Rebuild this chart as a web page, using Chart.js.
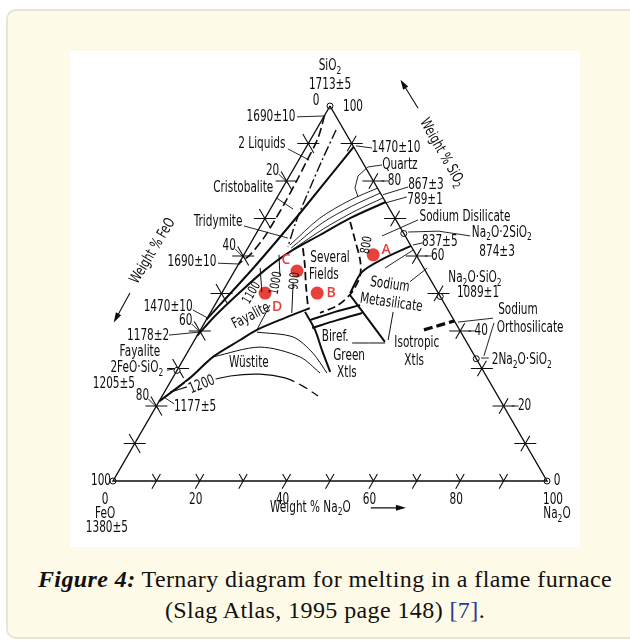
<!DOCTYPE html>
<html>
<head>
<meta charset="utf-8">
<script src="https://cdn.jsdelivr.net/npm/chart.js@4.4.1/dist/chart.umd.min.js"></script>
<style>
html, body { margin:0; padding:0; background:#fff; width:630px; height:641px; overflow:hidden; }
#card { position:absolute; left:6px; top:9px; width:660px; height:630px; background:#fefae8;
        border:2px solid #e8e4d8; border-radius:10px; box-sizing:border-box; }
#pic { position:absolute; left:70px; top:51px; width:510px; height:496px; background:#fff; }
#cap { position:absolute; left:20px; top:564px; width:610px; text-align:center;
       font-family:'Liberation Serif', serif; font-size:24px; line-height:31px; letter-spacing:0.4px; color:#111; }
#cap .ref { color:#2b3a93; }
</style>
</head>
<body>
<div id="card"></div>
<div id="pic"><canvas id="tern" width="510" height="496"></canvas></div>
<div id="cap"><b><i>Figure 4:</i></b> Ternary diagram for melting in a flame furnace<br>(Slag Atlas, 1995 page 148) <span class="ref">[7]</span>.</div>

<script>
// compositions are [wt% Na2O, wt% SiO2], FeO is the rest
var na2oTicks = [0, 20, 40, 60, 80, 100];
var feoTicks = [0, 20, 40, 60, 80, 100];
var sio2Ticks = [0, 20, 40, 60, 80, 100];
var tickSteps = [10, 20, 30, 40, 50, 60, 70, 80, 90];

var pointNames = ['A', 'B', 'C', 'D'];
var pointNa2O = [29.8, 22.0, 14.4, 10.0];
var pointSiO2 = [60.3, 50.1, 56.0, 50.1];

var compounds = [[0,100],[0,0],[100,0],[0,29.5],[34.0,66.0],[50.8,49.2],[67.4,32.6]];

var liquids2 = [[0,97.5],[1.5,91.5],[2,85],[2.3,80],[2.5,74.5],[2.5,69],[2.3,64.5],[1.4,60.3],[0,58]];
var iso1470 = [[10.9,89.1],[7.5,72],[4,57],[0,43]];
var dashDot = [[4.6,93.6],[5.4,85.6],[6.5,76.8],[7.6,69.1],[9.1,62.4]];
var silicaLine = [[0,38.7],[1.5,44],[4.1,50.4],[6.9,56.3],[10.2,61.1],[14.9,65.6],[19.6,70.1],[25.6,74.4]];
var quartz1 = [[21.9,78.1],[17.2,74.9],[12.6,70.1],[9.3,62.9]];
var quartz2 = [[23.2,76.8],[18.4,73.3],[13.8,68.8],[10,62.1]];
var quartz3 = [[24.5,75.5],[19.8,72],[15.1,67.5],[10.4,61.6]];
var disMeta = [[37.3,62.7],[32.9,59.5],[29.5,55.7],[29.6,50.1]];
var iso800 = [[20.1,69.1],[23.6,64.3],[27.5,58.9],[29.5,54.9],[29.9,50.4],[28.4,46.9],[25.3,44.8]];
var iso900 = [[12.7,62.1],[15.4,57.6],[18.3,52.3],[21.9,46.1]];
var iso1100 = [[5.5,56.8],[9.1,50.4]];
var iso1000 = [[8.1,60.3],[11,54.9]];
var line900 = [[15.1,52.8],[18.8,44.8]];
var fayWus = [[0,21.2],[4,27.5],[6.5,33.1],[10.5,37.6],[13,40.3],[17.9,43.5],[22.3,46.1]];
var fayLead = [[13,40.3],[12.7,46.9]];
var wusUpper = [[13.3,39.7],[22.3,38.4],[29,34.1],[34.9,28.8]];
var wusLower = [[6.5,33.1],[16,35.7],[26.5,33.1],[33.3,28.8]];
var greenLine = [[21.7,45.1],[26.4,40.3],[30.7,34.9],[35.5,29.1]];
var biref1 = [[23.9,42.9],[28.6,45.1],[33.5,46.9]];
var biref2 = [[25.5,40.8],[30.2,42.9],[35,44.8]];
var metaIso = [[29.8,49.6],[36.8,43.5],[44.1,37.1]];
var birefIso = [[36.7,36.8],[44.3,36.8]];
var isoLead = [[44.6,37.6],[42,45.1]];
var metaOrtho = [[51.5,40.3],[57.3,42.7]];
var iso1200 = [[1.3,23.7],[7,26.1],[13,28],[19.6,28.5],[25.9,27.5],[31.1,25.3],[35.9,22.7]];

var FONT = "'DejaVu Sans',sans-serif";
var SQUEEZE = 0.7;   // the drawing uses a narrow stencil-like lettering
var INK = '#0d0d0d';

function tern(p) {
    return {x: p[0] + p[1] / 2, y: p[1] * Math.sqrt(3) / 2};
}

function curve(pts, w, dash, extra) {
    return Object.assign({
        data: pts.map(tern), showLine: true, borderColor: INK, borderWidth: w,
        borderDash: dash || [], pointRadius: 0, tension: 0.3, clip: false
    }, extra || {});
}

// labels: text, x, y in chart units (base 0..100, height 0..86.6), options
var labels = [
    ['SiO_2', 50.0, 95.8], ['1713±5', 50.0, 91.5],
    ['1690±10', 36.4, 84.1], ['2 Liquids', 34.3, 77.8], ['Cristobalite', 30.0, 67.7],
    ['Tridymite', 24.2, 59.8], ['1690±10', 18.2, 50.6], ['1470±10', 12.7, 40.2],
    ['1178±2', 8.1, 33.5], ['Fayalite', 6.2, 29.8], ['2FeO·SiO_2', 5.5, 26.1],
    ['1205±5', 0.2, 22.4], ['1177±5', 18.9, 17.1],
    ['1200', 20.5, 22.2, {rot: -22, bg: true}], ['Wüstite', 31.3, 27.3],
    ['Fayalite', 31.8, 38.1, {rot: -27}],
    ['1100', 32.0, 43.4, {rot: -60, size: 13}], ['1000', 37.6, 45.7, {rot: -80, size: 13}],
    ['900', 41.9, 46.2, {rot: -85, size: 13}], ['800', 58.5, 54.5, {rot: -80, size: 13}],
    ['Several', 50.0, 51.5], ['Fields', 48.6, 47.6],
    ['1470±10', 65.2, 76.9], ['Quartz', 66.1, 73.0], ['867±3', 72.1, 68.4], ['789±1', 71.9, 64.9],
    ['Sodium Disilicate', 81.1, 61.0], ['Na_2O·2SiO_2', 89.6, 57.3], ['837±5', 75.3, 55.2],
    ['874±3', 88.5, 52.9], ['Na_2O·SiO_2', 83.4, 46.9], ['1089±1', 84.1, 43.4],
    ['Sodium', 93.3, 39.5], ['Orthosilicate', 96.1, 35.3], ['2Na_2O·SiO_2', 94.2, 27.9],
    ['Sodium', 63.8, 45.3, {rot: 8}], ['Metasilicate', 64.1, 41.1, {rot: 8}],
    ['Biref.', 51.2, 33.3], ['Green', 54.4, 28.9], ['Xtls', 53.9, 24.9],
    ['Isotropic', 70.0, 31.9], ['Xtls', 69.4, 27.7],
    ['Weight % SiO_2', 75.8, 75.8, {rot: 60}], ['Weight % FeO', 9.2, 53.1, {rot: -59}],
    ['FeO', -1.8, -7.6], ['1380±5', -1.4, -10.9], ['Na_2O', 102.3, -7.6],
    ['Weight % Na_2O', 36.2, -6.2, {align: 'left'}]
];

var leaders = [
    [[42.4,84.1],[48.8,84.3]], [[40.3,76.7],[45.2,74.1]], [[37.6,65.4],[41.5,62.8]],
    [[30.2,58.9],[40.3,56.1]], [[24.2,50.3],[29.3,50.1]], [[18.4,39.5],[21.9,37.6]],
    [[12.9,33.7],[20.0,34.4]], [[12.4,25.6],[14.3,25.9]], [[14.1,17.8],[12.0,19.2]],
    [[56.0,77.4],[59.7,76.9]], [[61.98,72.98],[58.76,72.52],[56.45,70.44],[55.76,67.67],[56.45,65.59]],
    [[68.0,67.9],[62.2,66.1]], [[67.7,65.6],[62.7,64.2]], [[70.3,60.3],[62.0,56.6]],
    [[68.0,57.5],[75.0,57.7],[82.3,56.6]], [[69.1,54.5],[71.4,55.0]],
    [[87.56,37.6],[79.49,36.7]], [[87.79,36.5],[85.48,28.9]], [[84.8,28.4],[86.6,28.4]],
    [[62.7,49.2],[69.1,53.3]], [[68.4,46.0],[72.4,49.2]]
];

var arrows = [
    [[59.4,-6.2],[66.8,-6.2]], [[70.3,86.1],[66.6,92.1]], [[3.9,43.4],[0.5,37.2]]
];

function parts(s) {
    var out = [], buf = '';
    for (var i = 0; i < s.length; i++) {
        if (s[i] === '_') { if (buf) out.push([buf, false]); buf = ''; out.push([s[i + 1], true]); i++; }
        else buf += s[i];
    }
    if (buf) out.push([buf, false]);
    return out;
}

function drawText(ctx, str, px, py, o) {
    var size = o.size || 15, rot = o.rot || 0, align = o.align || 'center';
    var sq = o.font ? 1 : SQUEEZE;
    var ps = parts(str), w = 0;
    ctx.save();
    ctx.translate(px, py);
    ctx.rotate(rot * Math.PI / 180);
    ctx.scale(sq, 1);
    ps.forEach(function(p) {
        ctx.font = (o.weight || '') + ' ' + (p[1] ? size * 0.72 : size) + 'px ' + (o.font || FONT);
        p.w = ctx.measureText(p[0]).width; w += p.w;
    });
    var x0 = align === 'left' ? 0 : (align === 'right' ? -w : -w / 2);
    if (o.bg) { ctx.fillStyle = '#fff'; ctx.fillRect(x0 - 2, -size / 2 - 1, w + 4, size + 2); }
    ctx.fillStyle = o.color || INK;
    ctx.textBaseline = 'middle';
    ctx.textAlign = 'left';
    ps.forEach(function(p) {
        ctx.font = (o.weight || '') + ' ' + (p[1] ? size * 0.72 : size) + 'px ' + (o.font || FONT);
        ctx.fillText(p[0], x0, p[1] ? size * 0.32 : 0);
        x0 += p.w;
    });
    ctx.restore();
}

var annot = {
    id: 'annot',
    beforeDatasetsDraw: function(chart) {
        var ctx = chart.ctx, sx = chart.scales.x, sy = chart.scales.y;
        var P = function(c) { var t = tern(c); return [sx.getPixelForValue(t.x), sy.getPixelForValue(t.y)]; };
        var Q = function(c) { return [sx.getPixelForValue(c[0]), sy.getPixelForValue(c[1])]; };
        var up60 = [0.5, -0.866], up120 = [-0.5, -0.866], hor = [1, 0];
        var seg = function(p, d, a, b) {
            ctx.moveTo(p[0] + d[0] * a, p[1] + d[1] * a);
            ctx.lineTo(p[0] + d[0] * b, p[1] + d[1] * b);
        };
        ctx.save();
        ctx.strokeStyle = INK;
        ctx.lineWidth = 1.1;
        ctx.beginPath();
        tickSteps.forEach(function(v) {
            var p = P([v, 0]); seg(p, up60, -9, 8); seg(p, up120, 0, 8);
            p = P([0, v]); seg(p, hor, -11, 11); seg(p, up120, -11, 11);
            p = P([100 - v, v]); seg(p, hor, -11, 11); seg(p, up60, -9, 9);
        });
        ctx.stroke();
        ctx.lineWidth = 0.9;
        leaders.forEach(function(l) {
            ctx.beginPath();
            l.forEach(function(c, i) { var p = Q(c); if (i) ctx.lineTo(p[0], p[1]); else ctx.moveTo(p[0], p[1]); });
            ctx.stroke();
        });
        // tick label leaders on the two sloping sides
        ctx.beginPath();
        [20, 40, 60, 80].forEach(function(v) {
            var p = P([0, 100 - v]);
            ctx.moveTo(p[0] - 8, p[1] - 7); ctx.lineTo(p[0] + 2, p[1] + 3);
            p = P([100 - v, v]);
            ctx.moveTo(p[0] + 8, p[1]); ctx.lineTo(p[0] + 15, p[1]);
        });
        ctx.stroke();
        ctx.fillStyle = INK;
        ctx.lineWidth = 1.1;
        arrows.forEach(function(a) {
            var p0 = Q(a[0]), p1 = Q(a[1]);
            var ang = Math.atan2(p1[1] - p0[1], p1[0] - p0[0]);
            ctx.beginPath(); ctx.moveTo(p0[0], p0[1]); ctx.lineTo(p1[0], p1[1]); ctx.stroke();
            ctx.beginPath();
            ctx.moveTo(p1[0] + 3 * Math.cos(ang), p1[1] + 3 * Math.sin(ang));
            ctx.lineTo(p1[0] - 7 * Math.cos(ang) - 3 * Math.sin(ang), p1[1] - 7 * Math.sin(ang) + 3 * Math.cos(ang));
            ctx.lineTo(p1[0] - 7 * Math.cos(ang) + 3 * Math.sin(ang), p1[1] - 7 * Math.sin(ang) - 3 * Math.cos(ang));
            ctx.closePath(); ctx.fill();
        });
        ctx.restore();
    },
    afterDatasetsDraw: function(chart) {
        var ctx = chart.ctx, sx = chart.scales.x, sy = chart.scales.y;
        var P = function(c) { var t = tern(c); return [sx.getPixelForValue(t.x), sy.getPixelForValue(t.y)]; };
        na2oTicks.forEach(function(v) {
            var p = P([v, 0]);
            var dx = v === 0 ? -8 : (v === 100 ? 6 : -4);
            drawText(ctx, String(v), p[0] + dx, p[1] + 19, {});
        });
        feoTicks.forEach(function(v) {
            var p = P([0, 100 - v]);
            var off = v === 0 ? [-14, -5] : (v === 100 ? [-12, 0] : [-14, -10]);
            drawText(ctx, String(v), p[0] + off[0], p[1] + off[1], {});
        });
        sio2Ticks.forEach(function(v) {
            var p = P([100 - v, v]);
            var off = v === 0 ? [10, 0] : (v === 100 ? [23, 1] : [21, 0]);
            drawText(ctx, String(v), p[0] + off[0], p[1] + off[1], {});
        });
        labels.forEach(function(l) {
            drawText(ctx, l[0], sx.getPixelForValue(l[1]), sy.getPixelForValue(l[2]), l[3] || {});
        });
        pointNames.forEach(function(n, i) {
            var p = P([pointNa2O[i], pointSiO2[i]]);
            var off = [[13, -5], [14, 0], [-11, -11], [12, 14]][i];
            drawText(ctx, n, p[0] + off[0], p[1] + off[1],
                {color: '#e8403a', size: 14, weight: '600', font: "'Open Sans',sans-serif"});
        });
    }
};

var datasets = [
    curve([[0,100],[0,0],[100,0],[0,100]], 1.4, [], {tension: 0}),
    curve(liquids2, 1.6, [9, 4]),
    curve(iso1470, 2.0, [], {tension: 0.2}),
    curve(dashDot, 1.4, [10, 3, 2, 3]),
    curve(silicaLine, 2.0),
    curve(quartz1, 0.9), curve(quartz2, 0.9), curve(quartz3, 0.9),
    curve(disMeta, 2.0),
    curve(iso800, 1.8, [8, 4]),
    curve(iso900, 1.8, [8, 4]),
    curve(iso1100, 1.0), curve(iso1000, 1.0), curve(line900, 1.0),
    curve(fayWus, 2.0),
    curve(fayLead, 1.0),
    curve(wusUpper, 1.0), curve(wusLower, 1.0),
    curve(greenLine, 2.0),
    curve(biref1, 2.0), curve(biref2, 2.0),
    curve(metaIso, 2.0),
    curve(birefIso, 1.0),
    curve(isoLead, 1.0),
    curve(metaOrtho, 3.2, [9, 4]),
    curve(iso1200, 1.2, [], {segment: {borderDash: function(c) { return c.p0DataIndex >= 4 ? [10, 5] : []; }}}),
    {
        data: compounds.map(tern), showLine: false, pointRadius: 3, pointBorderWidth: 1,
        pointBackgroundColor: '#fff', pointBorderColor: INK, clip: false
    },
    {
        data: pointNa2O.map(function(n, i) { return tern([n, pointSiO2[i]]); }),
        showLine: false, pointRadius: 6.5, pointBorderWidth: 0,
        pointBackgroundColor: '#e8403a', pointBorderColor: '#e8403a', clip: false
    }
];

new Chart(document.getElementById('tern'), {
    type: 'scatter',
    data: {datasets: datasets},
    options: {
        responsive: false,
        animation: false,
        devicePixelRatio: 1,
        layout: {padding: {left: 43, top: 55, right: 33, bottom: 66}},
        scales: {
            x: {type: 'linear', min: 0, max: 100, display: false},
            y: {type: 'linear', min: 0, max: 86.6025, display: false}
        },
        plugins: {legend: {display: false}, tooltip: {enabled: false}},
        events: []
    },
    plugins: [annot]
});
</script>
</body>
</html>
